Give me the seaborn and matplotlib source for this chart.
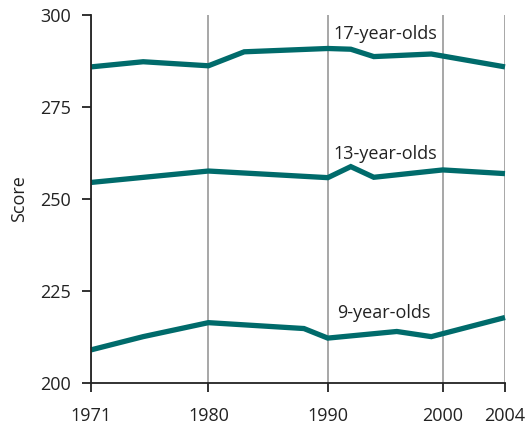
import numpy as np
import pandas as pd
import matplotlib
matplotlib.use("Agg")
import matplotlib.pyplot as plt
import seaborn as sns

# Data
years_17 = [1971, 1975, 1980, 1983, 1990, 1992, 1994, 1999, 2004]
scores_17 = [285.9, 287.3, 286.2, 290.0, 290.9, 290.7, 288.7, 289.4, 285.9]

years_13 = [1971, 1980, 1990, 1992, 1994, 2000, 2004]
scores_13 = [254.5, 257.6, 255.8, 258.8, 255.9, 257.9, 256.9]

years_9 = [1971, 1975, 1980, 1988, 1990, 1996, 1999, 2004]
scores_9 = [209.0, 212.6, 216.4, 214.8, 212.2, 214.0, 212.6, 217.8]

groups = ["17-year-olds", "13-year-olds", "9-year-olds"]
x_ticks = [1971, 1980, 1990, 2000, 2004]
y_ticks = [200, 225, 250, 275, 300]

df = pd.concat([
    pd.DataFrame({"Year": years_17, "Score": scores_17, "Group": groups[0]}),
    pd.DataFrame({"Year": years_13, "Score": scores_13, "Group": groups[1]}),
    pd.DataFrame({"Year": years_9, "Score": scores_9, "Group": groups[2]}),
])

sns.set_style("white")
plt.rcParams["font.family"] = ["Open Sans", "DejaVu Sans"]

color = "#006b6b"
fig = plt.figure(figsize=(5.26, 4.26), dpi=100)
ax = fig.add_axes([91 / 526, 1 - 383 / 426, (505 - 91) / 526, (383 - 15) / 426])

# piecewise axis positions, as in the original
brk_years = [1971, 1980, 1990, 2000, 2004]
brk_pos = [0, 117, 236, 350.6, 412.6]
fwd = lambda x: np.interp(x, brk_years, brk_pos)
inv = lambda p: np.interp(p, brk_pos, brk_years)
ax.set_xscale("function", functions=(fwd, inv))

sns.lineplot(data=df, x="Year", y="Score", hue="Group",
             palette={g: color for g in groups}, linewidth=3.8,
             legend=False, ax=ax, sort=False, estimator=None)
for ln in ax.lines:
    ln.set_clip_on(False)
    ln.set_solid_joinstyle("miter")
    ln.set_solid_capstyle("butt")

ax.set_xlim(1971, 2004)
ax.set_ylim(200, 300)
ax.set_xticks(x_ticks)
ax.set_xticklabels([str(t) for t in x_ticks])
ax.set_yticks(y_ticks)
ax.minorticks_off()

ax.grid(axis="x", color="#909090", linewidth=1.1)
ax.grid(axis="y", visible=False)
ax.set_axisbelow(True)

for s in ["top", "right"]:
    ax.spines[s].set_visible(False)
for s in ["left", "bottom"]:
    ax.spines[s].set_color("#222222")
    ax.spines[s].set_linewidth(1.3)

fs = 13
ax.tick_params(axis="y", direction="out", length=6.7, width=1.3, color="#222222",
               pad=7.5, labelsize=fs, labelcolor="#222222", left=True)
ax.tick_params(axis="x", direction="out", length=6.7, width=1.3, color="#222222",
               pad=10.5, labelsize=fs, labelcolor="#222222", bottom=True)

ax.set_xlabel("")
ax.set_ylabel("Score", fontsize=fs, color="#222222", labelpad=9)

ax.text(1995.0, 294.8, "17-year-olds", fontsize=fs, color="#222222", ha="center", va="center")
ax.text(1995.0, 262.2, "13-year-olds", fontsize=fs, color="#222222", ha="center", va="center")
ax.text(1994.9, 219.0, "9-year-olds", fontsize=fs, color="#222222", ha="center", va="center")

fig.savefig("out.png", dpi=100)
